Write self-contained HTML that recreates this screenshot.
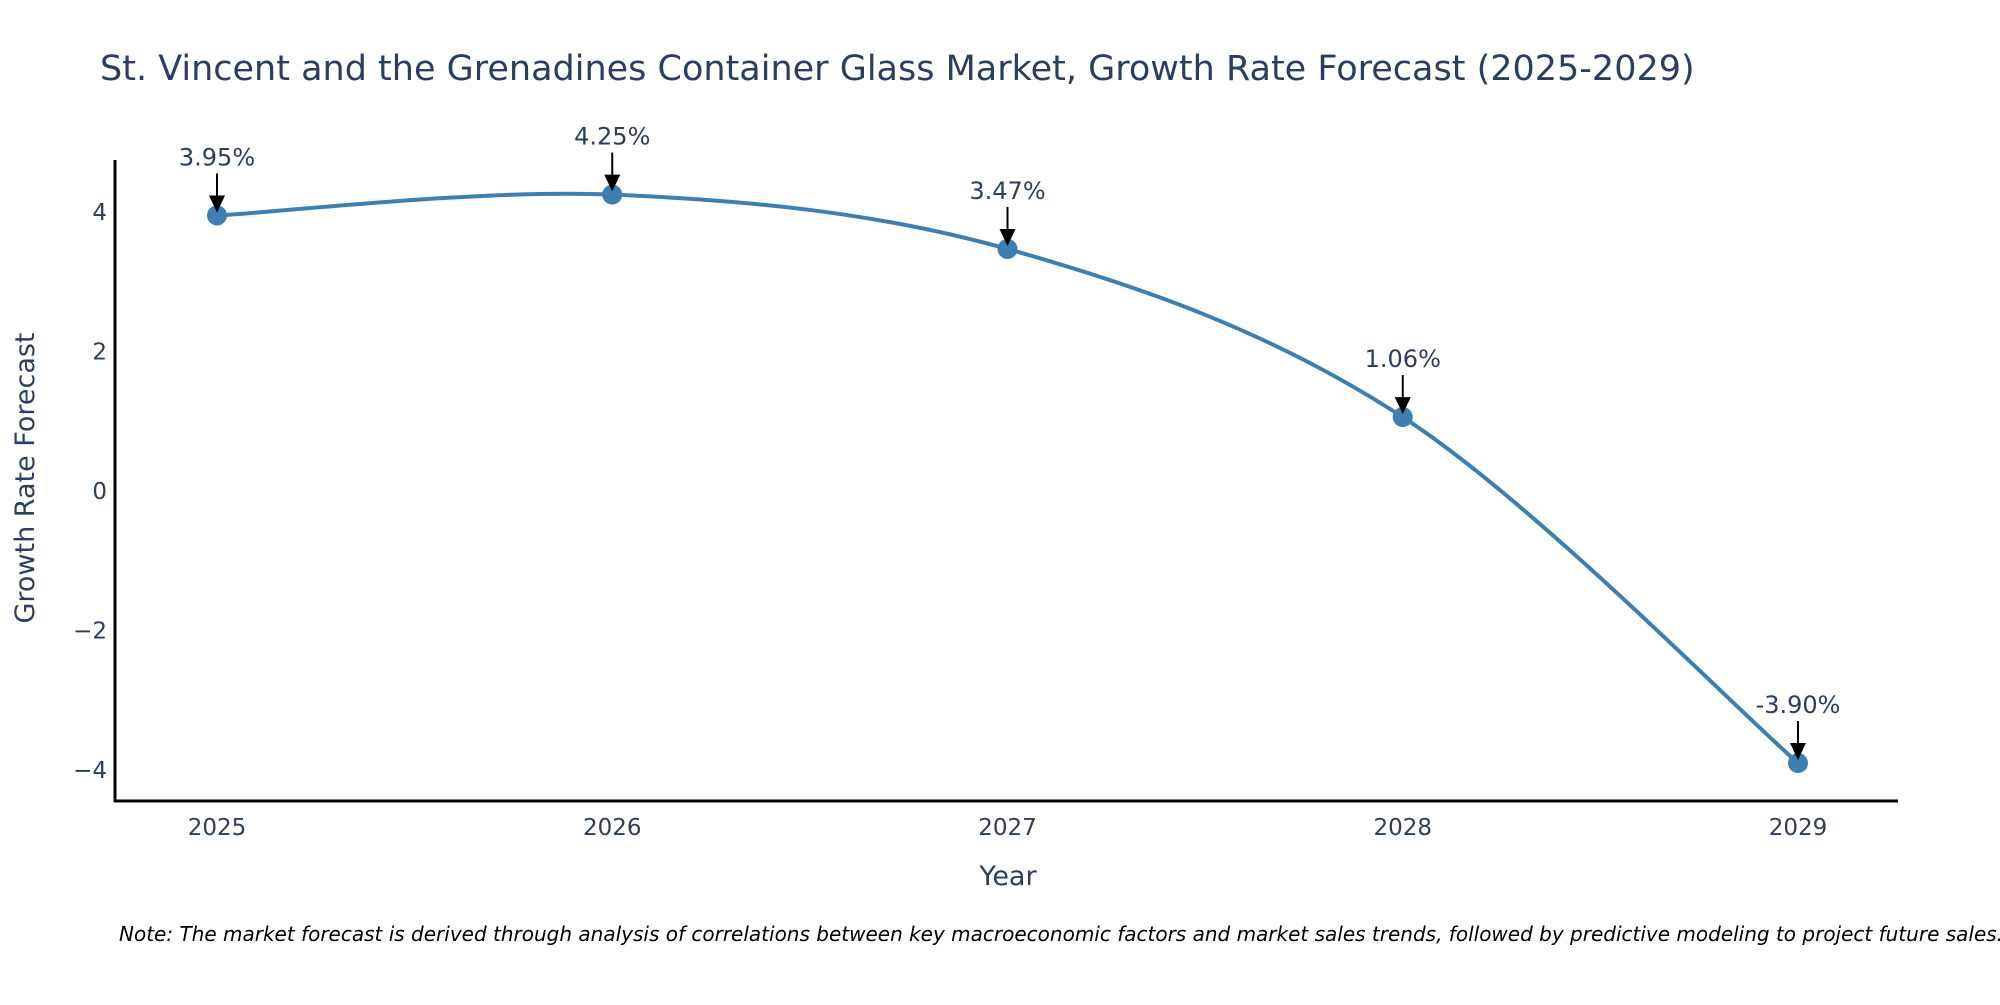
<!DOCTYPE html>
<html><head><meta charset="utf-8"><style>
body{margin:0;background:#fff;}
svg text{font-family:"DejaVu Sans","Liberation Sans",sans-serif;fill:#2a3f5f;}
</style></head><body>
<svg id="chart" width="2000" height="1000" xmlns="http://www.w3.org/2000/svg">
<text x="100" y="80" font-size="35">St. Vincent and the Grenadines Container Glass Market, Growth Rate Forecast (2025-2029)</text>
<g id="yticks"></g><g id="xticks"></g>
<line x1="115" y1="160" x2="115" y2="802" stroke="#000" stroke-width="3"/>
<line x1="114" y1="801" x2="1898" y2="801" stroke="#000" stroke-width="3"/>
<path id="series-line" fill="none" stroke="#3d7fb1" stroke-width="4"/>
<g id="points"></g><g id="annots"></g>
<text x="1008" y="885" font-size="27" text-anchor="middle">Year</text>
<text transform="translate(34,478) rotate(-90)" font-size="27" text-anchor="middle">Growth Rate Forecast</text>
<text x="119" y="941" font-size="20" font-style="italic" style="fill:#000">Note: The market forecast is derived through analysis of correlations between key macroeconomic factors and market sales trends, followed by predictive modeling to project future sales.</text>
</svg>
<script>
const years=[2025,2026,2027,2028,2029];
const values=[3.95,4.25,3.47,1.06,-3.90];
const labels=["3.95%","4.25%","3.47%","1.06%","-3.90%"];
const yTicks=[4,2,0,-2,-4];
const yTickLabels=["4","2","0","\u22122","\u22124"];
const NS="http://www.w3.org/2000/svg";
function xs(y){return 217+(y-2025)*395.25;}
function ys(v){return 491-v*69.75;}
function mk(t,a,p){const e=document.createElementNS(NS,t);for(const k in a)e.setAttribute(k,a[k]);p.appendChild(e);return e;}
const yt=document.getElementById('yticks');
yTicks.forEach((v,i)=>{const t=mk('text',{x:107,y:ys(v)+8,'font-size':23,'text-anchor':'end'},yt);t.textContent=yTickLabels[i];

});
const xt=document.getElementById('xticks');
years.forEach(y=>{const t=mk('text',{x:xs(y),y:835,'font-size':23,'text-anchor':'middle'},xt);t.textContent=y;

});
const P=years.map((y,i)=>[xs(y),ys(values[i])]);
let d='M'+P[0][0]+','+P[0][1];
for(let i=0;i<P.length-1;i++){const p0=P[Math.max(0,i-1)],p1=P[i],p2=P[i+1],p3=P[Math.min(P.length-1,i+2)];const k=1/6;
d+=' C'+(p1[0]+(p2[0]-p0[0])*k)+','+(p1[1]+(p2[1]-p0[1])*k)+' '+(p2[0]-(p3[0]-p1[0])*k)+','+(p2[1]-(p3[1]-p1[1])*k)+' '+p2[0]+','+p2[1];}
document.getElementById('series-line').setAttribute('d',d);
const pts=document.getElementById('points'),an=document.getElementById('annots');
P.forEach((p,i)=>{const c=mk('circle',{cx:p[0],cy:p[1],r:10,fill:'#3d7fb1'},pts);


const l=mk('line',{x1:p[0],y1:p[1]-42,x2:p[0],y2:p[1]-16,stroke:'#000','stroke-width':2},an);


const h=mk('path',{d:`M${p[0]-8},${p[1]-20} L${p[0]+8},${p[1]-20} L${p[0]},${p[1]-3} Z`,fill:'#000'},an);


const t=mk('text',{x:p[0],y:p[1]-50,'font-size':24,'text-anchor':'middle'},an);t.textContent=labels[i];

});
</script>
</body></html>
